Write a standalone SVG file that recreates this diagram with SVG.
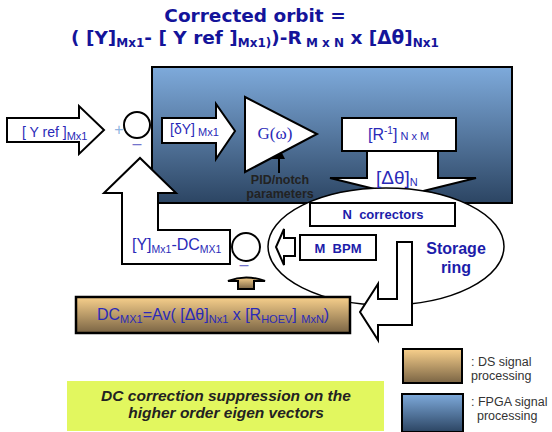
<svg xmlns="http://www.w3.org/2000/svg" width="552" height="432" viewBox="0 0 552 432">
<defs>
<linearGradient id="gFpga" x1="0" y1="0" x2="0" y2="1">
<stop offset="0" stop-color="#7eaadb"/>
<stop offset="1" stop-color="#2c4563"/>
</linearGradient>
<linearGradient id="gDs" x1="0" y1="0" x2="0" y2="1">
<stop offset="0" stop-color="#f8d08c"/>
<stop offset="1" stop-color="#7a6444"/>
</linearGradient>
<style>
.t{font-family:"DejaVu Sans",Verdana,sans-serif;font-weight:bold;fill:#14149a}
.a{font-family:"Liberation Sans",Arial,sans-serif;fill:#2a2ab8}
.ab{font-family:"Liberation Sans",Arial,sans-serif;font-weight:bold;fill:#1c1caa;white-space:pre}
.k{font-family:"Liberation Sans",Arial,sans-serif;font-weight:bold;fill:#222}
.lg{font-family:"Liberation Sans",Arial,sans-serif;fill:#333;font-size:12.5px}
.blk{fill:#fff;stroke:#000;stroke-width:2}
.arr{fill:#fff;stroke:#000;stroke-width:2;stroke-linejoin:miter}
</style>
</defs>
<rect width="552" height="432" fill="#fff"/>

<g id="title">
<text class="t" x="255" y="22" font-size="18.5" text-anchor="middle">Corrected orbit =</text>
<text class="t" x="255" y="44" font-size="18.5" text-anchor="middle">( [Y]<tspan font-size="12" dy="3">Mx1</tspan><tspan dy="-3">- [ Y ref ]</tspan><tspan font-size="12" dy="3">Mx1)</tspan><tspan dy="-3">)-R</tspan><tspan font-size="12" dy="3"> M x N</tspan><tspan dy="-3"> x [Δθ]</tspan><tspan font-size="12" dy="3">Nx1</tspan></text>
</g>

<g id="fpga">
<rect x="152" y="67" width="360" height="136" fill="url(#gFpga)" stroke="#000" stroke-width="2"/>
</g>

<g id="connectors">
<polygon class="arr" points="7,118 79,118 79,106 104,130 79,154 79,142 7,142"/>
<polygon class="arr" points="162,118 216,118 216,104 235,131 216,159 216,143 162,143"/>
<polygon class="arr" points="104,193 140,158 176,193 158,193 158,230 230,230 230,264 122,264 122,193"/>
<polygon class="arr" points="367,151 438,151 438,178 476,178 403,196 330,178 367,178"/>
<line x1="279" y1="155" x2="279" y2="173" stroke="#000" stroke-width="2"/>
<polygon points="277,143 270,159 285,159" fill="#000"/>
</g>

<g id="yref-label">
<text class="a" x="22" y="137" font-size="14">[ Y ref ]<tspan font-size="11" dy="3">Mx1</tspan></text>
</g>

<g id="sum1">
<circle cx="137" cy="125" r="13" class="blk"/>
<text x="119" y="135" font-family="Liberation Sans,Arial,sans-serif" font-size="16" fill="#8fb3df" text-anchor="middle">+</text>
<text x="137" y="149" font-family="Liberation Sans,Arial,sans-serif" font-size="16" fill="#7474cc" text-anchor="middle">–</text>
</g>

<g id="dy-label">
<text class="a" x="170" y="134" font-size="14">[δY]<tspan font-size="11" dy="2"> Mx1</tspan></text>
</g>

<g id="gain">
<polygon points="245,97 317,134 245,172" fill="#fff" stroke="#000" stroke-width="2"/>
<text x="275" y="139" font-family="Liberation Serif,Times New Roman,serif" font-size="17" fill="#2a2ab8" text-anchor="middle">G(ω)</text>
</g>

<g id="pid">
<text class="k" x="280" y="184" font-size="12.5" text-anchor="middle">PID/notch</text>
<text class="k" x="280" y="198" font-size="12.5" text-anchor="middle">parameters</text>
</g>

<g id="rinv">
<rect x="342" y="118" width="114" height="33" class="blk"/>
<text class="a" x="368" y="140" font-size="16">[R<tspan font-size="10" dy="-6">-1</tspan><tspan dy="6">]</tspan><tspan font-size="11" dy="0"> N x M</tspan></text>
</g>

<g id="storage">
<ellipse cx="386" cy="246.5" rx="118" ry="58.5" fill="#fff" stroke="#000" stroke-width="1.5"/>
<text class="ab" x="456" y="254" font-size="16" text-anchor="middle">Storage</text>
<text class="ab" x="456" y="273" font-size="16" text-anchor="middle">ring</text>
</g>

<g id="dtheta-label">
<text class="a" x="376" y="184" font-size="19">[Δθ]<tspan font-size="11" dy="2">N</tspan></text>
</g>

<g id="correctors">
<rect x="310" y="203" width="145" height="23" class="blk"/>
<text class="ab" x="383" y="219" font-size="13" text-anchor="middle">N  correctors</text>
</g>

<g id="bpm">
<rect x="300" y="235" width="76" height="25" class="blk"/>
<text class="ab" x="338" y="253" font-size="13" text-anchor="middle">M  BPM</text>
</g>

<g id="connectors2">
<polygon class="arr" points="295,238 295,256 284,256 284,265 276,247 284,229 284,238"/>
<polygon class="arr" points="397,242 412,242 412,325 378,325 378,340 360,312 378,284 378,299 397,299"/>
<path d="M228,281 Q246,274 265,281 L254,281 L254,289 L238,289 L238,281 Z" fill="url(#gDs)" stroke="#000" stroke-width="2"/>
</g>

<g id="ydc-label">
<text class="a" x="132" y="250" font-size="16">[Y]<tspan font-size="10.5" dy="3">Mx1</tspan><tspan dy="-3">-DC</tspan><tspan font-size="10.5" dy="3">MX1</tspan></text>
</g>

<g id="sum2">
<circle cx="246" cy="247" r="14" class="blk"/>
<text x="244" y="270" font-family="Liberation Sans,Arial,sans-serif" font-size="16" fill="#7474cc" text-anchor="middle">–</text>
</g>

<g id="dc">
<rect x="76" y="297" width="274" height="36" fill="url(#gDs)" stroke="#000" stroke-width="2.5"/>
<text class="a" x="97" y="320" font-size="16">DC<tspan font-size="11" dy="3">MX1</tspan><tspan dy="-3">=Av( [Δθ]</tspan><tspan font-size="11" dy="3">Nx1</tspan><tspan dy="-3"> x [R</tspan><tspan font-size="11" dy="3">HOEV</tspan><tspan dy="-3">] </tspan><tspan font-size="11" dy="3">MxN</tspan><tspan dy="-3">)</tspan></text>
</g>

<g id="note">
<rect x="67" y="381" width="317" height="50" fill="#e2f75f"/>
<text class="k" x="226" y="401" font-size="15.5" font-style="italic" fill="#111" text-anchor="middle">DC correction suppression on the</text>
<text class="k" x="226" y="418" font-size="15.5" font-style="italic" fill="#111" text-anchor="middle">higher order eigen vectors</text>
</g>

<g id="legend">
<rect x="403" y="349" width="59" height="34" fill="url(#gDs)" stroke="#000" stroke-width="2"/>
<text class="lg" x="471" y="366">: DS signal</text>
<text class="lg" x="471" y="380">processing</text>
<rect x="402" y="394" width="61" height="38" fill="url(#gFpga)" stroke="#000" stroke-width="2"/>
<text class="lg" x="471" y="406">: FPGA signal</text>
<text class="lg" x="477" y="420">processing</text>
</g>
</svg>
